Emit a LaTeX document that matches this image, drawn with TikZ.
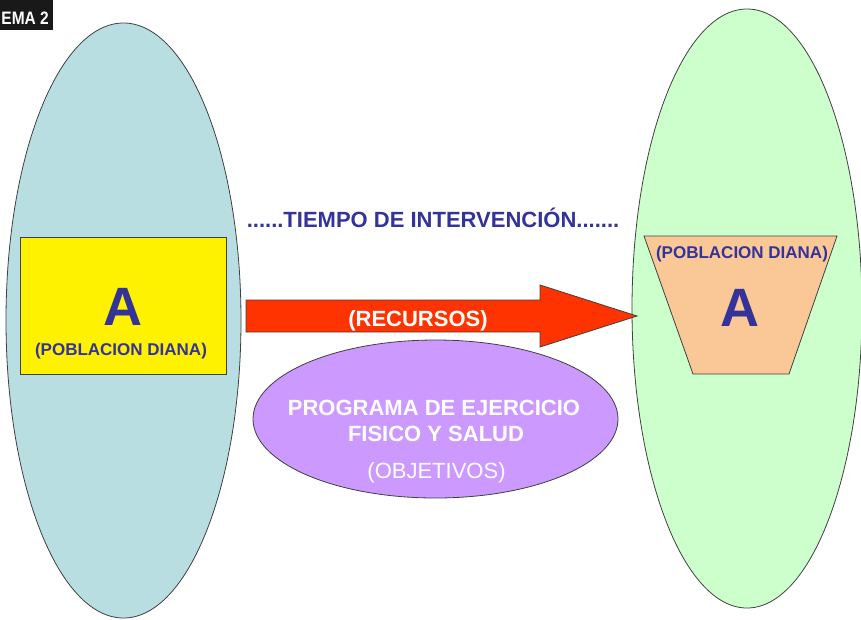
\documentclass[tikz,border=0pt]{standalone}
\usepackage{fontspec}
\setmainfont{Liberation Sans}
\usetikzlibrary{shapes.geometric}
\definecolor{leftfill}{HTML}{B8DEE2}
\definecolor{rightfill}{HTML}{CCFFCC}
\definecolor{peach}{HTML}{FAC896}
\definecolor{lilac}{HTML}{CC99FF}
\definecolor{arrowred}{HTML}{FF3300}
\definecolor{navy}{HTML}{333399}
\begin{document}
\begin{tikzpicture}[x=1pt,y=-1pt,
  outl/.style={draw=black!75, line width=0.8pt},
  navytxt/.style={text=navy, font=\bfseries, inner sep=0, anchor=base},
  whitetxt/.style={text=white, inner sep=0, anchor=base}]
\useasboundingbox (0,0) rectangle (861,619);
% tag
\fill[black!90] (0,0) rectangle (53,30);
\node[text=white, font=\bfseries\fontsize{18}{20}\selectfont, inner sep=0, anchor=base east] (tag) at (49,24) {\scalebox{0.86}[1]{EMA 2}};
% big ellipses
\node[ellipse, outl, fill=leftfill, minimum width=235, minimum height=595, inner sep=0] (lefte) at (123.5,320.5) {};
\node[ellipse, outl, fill=rightfill, minimum width=230, minimum height=599, inner sep=0] (righte) at (747,308.5) {};
% yellow box
\node[rectangle, outl, fill=yellow, minimum width=206, minimum height=137, inner sep=0] (ybox) at (123,305.5) {};
\node[navytxt, font=\bfseries\fontsize{54}{60}\selectfont] (yA) at (123,325) {A};
\node[navytxt, font=\bfseries\fontsize{17}{20}\selectfont] (ypob) at (121,355) {(POBLACION DIANA)};
% trapezoid
\coordinate (t1) at (644,236);
\coordinate (t2) at (837,236);
\coordinate (t3) at (789,374);
\coordinate (t4) at (693,374);
\draw[outl, fill=peach] (t1) -- (t2) -- (t3) -- (t4) -- cycle;
\node[navytxt, font=\bfseries\fontsize{17}{20}\selectfont] (tpob) at (742,258) {(POBLACION DIANA)};
\node[navytxt, font=\bfseries\fontsize{54}{60}\selectfont] (tA) at (740,326) {A};
% title
\node[navytxt, font=\bfseries\fontsize{22}{26}\selectfont] (title) at (433,227) {......TIEMPO DE INTERVENCIÓN.......};
% arrow
\coordinate (a0) at (246,300);
\coordinate (a1) at (540,300);
\coordinate (a2) at (540,285);
\coordinate (tip) at (637,316);
\coordinate (a4) at (540,347);
\coordinate (a5) at (540,332);
\coordinate (a6) at (246,332);
\draw[outl, fill=arrowred] (a0) -- (a1) -- (a2) -- (tip) -- (a4) -- (a5) -- (a6) -- cycle;
\node[whitetxt, font=\bfseries\fontsize{22}{26}\selectfont] (recursos) at (418,326) {(RECURSOS)};
% purple ellipse
\node[ellipse, outl, fill=lilac, minimum width=365, minimum height=158, inner sep=0] (prog) at (435.5,419) {};
\node[whitetxt, font=\bfseries\fontsize{22}{26}\selectfont] (p1) at (434,415) {PROGRAMA DE EJERCICIO};
\node[whitetxt, font=\bfseries\fontsize{22}{26}\selectfont] (p2) at (436,441) {FISICO Y SALUD};
\node[whitetxt, font=\fontsize{22}{26}\selectfont] (p3) at (436.5,478) {(OBJETIVOS)};
\end{tikzpicture}
\end{document}
